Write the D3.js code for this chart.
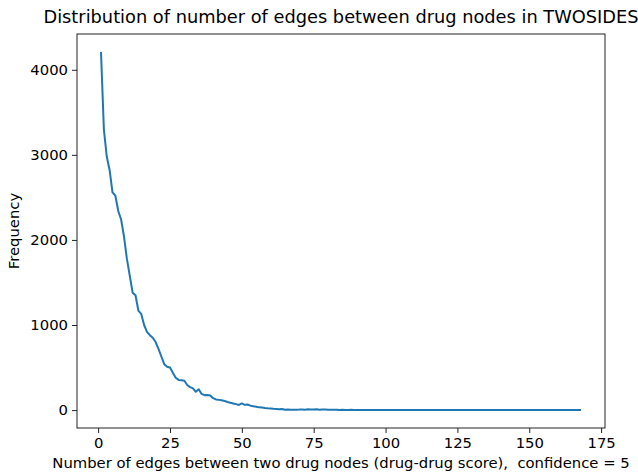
<!DOCTYPE html>
<html>
<head>
<meta charset="utf-8">
<script src="https://cdn.jsdelivr.net/npm/d3@7"></script>
<style>
  body { margin: 0; background: #fff; }
  text { font-family: "DejaVu Sans", sans-serif; fill: #000; }
</style>
</head>
<body>
<div id="chart"></div>
<script>
// valeurs (x = 1..168)
const edgeCounts = d3.range(1, 169);
const frequency = [
  4210, 3300, 2980, 2820, 2560, 2520, 2340, 2240, 2040, 1780,
  1580, 1380, 1350, 1170, 1130, 1000, 920, 880, 850, 800,
  720, 630, 540, 510, 500, 440, 380, 355, 350, 345,
  295, 270, 255, 215, 245, 190, 175, 178, 172, 140,
  125, 120, 115, 108, 95, 86, 78, 70, 60, 78,
  62, 66, 52, 46, 40, 32, 30, 25, 22, 20,
  15, 13, 10, 12, 5, 6, 4, 3, 5, 6,
  8, 5, 9, 7, 6, 10, 5, 8, 6, 4,
  5, 3, 4, 2, 3, 2, 1, 3, 1, 2,
  1, 2, 1, 1, 0, 1, 2, 1, 0, 1,
  1, 0, 1, 0, 0, 1, 0, 1, 0, 0,
  1, 0, 0, 0, 1, 0, 0, 0, 0, 1,
  0, 0, 0, 0, 0, 0, 1, 0, 0, 0,
  0, 0, 0, 0, 0, 0, 0, 0, 0, 0,
  0, 0, 0, 0, 0, 0, 0, 0, 0, 0,
  0, 0, 0, 0, 0, 0, 0, 0, 0, 0,
  0, 0, 0, 0, 0, 0, 0, 0
];
const xTicks = [0, 25, 50, 75, 100, 125, 150, 175];
const yTicks = [0, 1000, 2000, 3000, 4000];

const titleText = "Distribution of number of edges between drug nodes in TWOSIDES";
const xLabel = "Number of edges between two drug nodes (drug-drug score),  confidence = 5";
const yLabel = "Frequency";

const width = 638,
  height = 472;
const margin = { top: 34, right: 33, bottom: 44, left: 77 };
const innerW = width - margin.left - margin.right,
  innerH = height - margin.top - margin.bottom;

const data = edgeCounts.map((d, i) => ({ x: d, y: frequency[i] }));

// marges de 5% comme matplotlib
const xMin = d3.min(edgeCounts), xMax = d3.max(edgeCounts);
const yMin = d3.min(frequency), yMax = d3.max(frequency);
const xPad = (xMax - xMin) * 0.05, yPad = (yMax - yMin) * 0.05;

const x = d3.scaleLinear().domain([xMin - xPad, xMax + xPad]).range([0, innerW]);
const y = d3.scaleLinear().domain([yMin - yPad, yMax + yPad]).range([innerH, 0]);

const svg = d3.select("#chart").append("svg")
  .attr("width", width)
  .attr("height", height);

const g = svg.append("g")
  .attr("transform", "translate(" + margin.left + "," + margin.top + ")");

// la courbe
g.append("path")
  .datum(data)
  .attr("fill", "none")
  .attr("stroke", "#1f77b4")
  .attr("stroke-width", 2)
  .attr("stroke-linejoin", "round")
  .attr("d", d3.line().x(d => x(d.x)).y(d => y(d.y)));

// axes
const xAxis = g.append("g")
  .attr("transform", "translate(0," + innerH + ")")
  .call(d3.axisBottom(x).tickValues(xTicks).tickSize(5).tickPadding(4));
const yAxis = g.append("g")
  .call(d3.axisLeft(y).tickValues(yTicks).tickFormat(d3.format("d")).tickSize(5).tickPadding(4));

[xAxis, yAxis].forEach(a => {
  a.select(".domain").remove();
  a.selectAll("line").attr("stroke", "#222").attr("stroke-width", 1);
  a.selectAll("text").style("font-size", "14.8px").attr("fill", "#222");
});

// cadre
g.append("rect")
  .attr("x", 0).attr("y", 0)
  .attr("width", innerW).attr("height", innerH)
  .attr("fill", "none")
  .attr("stroke", "#222")
  .attr("stroke-width", 1);

// titre et labels
svg.append("text")
  .attr("x", margin.left + innerW / 2)
  .attr("y", 23)
  .attr("text-anchor", "middle")
  .style("font-size", "17.8px")
  .attr("fill", "#222")
  .text(titleText);

svg.append("text")
  .attr("x", margin.left + innerW / 2)
  .attr("y", 468)
  .attr("text-anchor", "middle")
  .style("font-size", "14.8px")
  .style("white-space", "pre")
  .attr("fill", "#222")
  .text(xLabel);

svg.append("text")
  .attr("transform", "translate(19," + (margin.top + innerH / 2) + ") rotate(-90)")
  .attr("text-anchor", "middle")
  .style("font-size", "14.8px")
  .attr("fill", "#222")
  .text(yLabel);
</script>
</body>
</html>
